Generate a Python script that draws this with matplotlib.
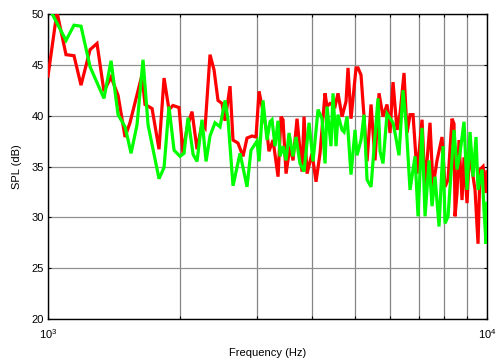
import numpy as np
import matplotlib
matplotlib.use('Agg')
import matplotlib.pyplot as plt
from matplotlib.ticker import LogLocator, NullFormatter, FixedLocator

plt.rcParams['font.family'] = ['Liberation Sans', 'DejaVu Sans']

# measured SPL, red run (Hz, dB)
freq_red = np.array([
    1000, 1048, 1099, 1146, 1189, 1247, 1293, 1341, 1392, 1444,
    1498, 1537, 1637, 1663, 1726, 1790, 1838, 1886, 1926, 1988,
    2030, 2073, 2128, 2185, 2243, 2279, 2339, 2389, 2439, 2491,
    2531, 2598, 2639, 2709, 2781, 2840, 2916, 2977, 3025, 3089,
    3154, 3187, 3255, 3342, 3395, 3430, 3485, 3559, 3615, 3692,
    3790, 3830, 3891, 3994, 4079, 4165, 4276, 4321, 4389, 4506,
    4577, 4675, 4774, 4824, 4900, 5031, 5084, 5164, 5246, 5330,
    5443, 5558, 5676, 5796, 5919, 6013, 6108, 6238, 6337, 6471,
    6574, 6678, 6784, 6928, 7112, 7225, 7416, 7534, 7694, 7898,
    8024, 8151, 8324, 8411, 8456, 8545, 8635, 8772, 8864, 9005,
    9148, 9244, 9391, 9540, 9640, 9793, 9949, 10000])
spl_red = np.array([
    43.9, 50.2, 46.0, 45.9, 43.0, 46.5, 47.1, 42.4, 43.8, 42.0,
    37.9, 39.3, 44.0, 41.1, 40.7, 36.7, 43.7, 40.6, 41.0, 40.8,
    36.3, 38.8, 40.4, 36.7, 39.2, 38.8, 46.0, 44.5, 41.5, 41.2,
    39.5, 42.9, 37.6, 37.3, 36.0, 37.8, 38.0, 37.9, 42.4, 40.4,
    38.3, 36.5, 37.6, 34.0, 39.9, 39.6, 34.3, 37.0, 35.6, 39.7,
    34.5, 39.9, 34.3, 36.3, 33.5, 36.3, 42.2, 40.9, 41.2, 40.9,
    42.2, 39.9, 41.4, 44.7, 39.7, 44.7, 44.7, 44.0, 39.9, 35.5,
    41.1, 35.6, 42.2, 39.9, 41.1, 38.3, 43.3, 38.6, 40.2, 44.2,
    38.3, 40.1, 40.1, 34.3, 39.6, 33.0, 39.3, 33.0, 35.6, 37.9,
    33.0, 33.7, 39.7, 39.2, 30.1, 32.4, 37.6, 31.7, 35.9, 31.4,
    37.6, 34.7, 32.7, 27.4, 34.7, 35.0, 32.4, 34.5])

# measured SPL, green run (Hz, dB)
freq_green = np.array([
    1000, 1099, 1146, 1189, 1247, 1341, 1392, 1444, 1498, 1546,
    1595, 1646, 1690, 1790, 1838, 1886, 1937, 1999, 2041, 2084,
    2140, 2185, 2243, 2291, 2339, 2401, 2465, 2531, 2571, 2639,
    2738, 2840, 2900, 2993, 3025, 3089, 3154, 3204, 3238, 3289,
    3342, 3377, 3430, 3485, 3540, 3615, 3672, 3750, 3830, 3932,
    4015, 4122, 4209, 4276, 4321, 4412, 4459, 4530, 4577, 4675,
    4724, 4799, 4900, 5004, 5057, 5164, 5246, 5330, 5443, 5529,
    5646, 5706, 5796, 5919, 6108, 6173, 6303, 6437, 6539, 6678,
    6855, 6964, 7112, 7225, 7378, 7495, 7614, 7775, 7940, 8024,
    8151, 8411, 8545, 8680, 8864, 9005, 9148, 9293, 9440, 9540,
    9742, 9845, 9949, 10000])
spl_green = np.array([
    50.8, 47.4, 48.9, 48.8, 44.8, 41.7, 45.4, 40.1, 38.9, 36.3,
    39.1, 45.5, 39.1, 33.8, 34.9, 40.9, 36.6, 36.0, 36.3, 39.8,
    36.2, 35.5, 39.6, 35.5, 38.0, 39.3, 38.9, 41.5, 39.6, 33.1,
    36.3, 33.0, 36.6, 37.5, 35.5, 41.5, 37.6, 39.4, 39.6, 37.0,
    39.5, 36.0, 37.0, 35.6, 38.3, 36.0, 37.9, 35.3, 34.5, 39.3,
    35.5, 40.6, 39.7, 35.3, 40.9, 37.0, 42.2, 37.0, 40.1, 38.6,
    38.4, 39.9, 34.2, 38.6, 36.1, 37.6, 40.1, 33.7, 33.0, 36.8,
    41.7, 36.5, 35.3, 40.2, 39.3, 38.3, 36.1, 42.5, 39.3, 32.7,
    36.0, 30.1, 38.8, 30.1, 35.6, 31.1, 34.0, 29.1, 37.0, 29.4,
    30.1, 38.6, 34.7, 36.3, 39.4, 32.7, 38.4, 34.0, 37.9, 32.7,
    34.7, 30.7, 27.4, 31.4])

y_ticks = [20, 25, 30, 35, 40, 45, 50]

fig = plt.figure(figsize=(4.97, 3.62), dpi=100)
ax = fig.add_axes([0.0966, 0.1188, 0.8833, 0.8425])

ax.semilogx(freq_red, spl_red, color='#ff0000', lw=2.3, solid_joinstyle='miter', zorder=3)
ax.semilogx(freq_green, spl_green, color='#00ff00', lw=2.3, solid_joinstyle='miter', zorder=4)

ax.set_xlim(1000, 10000)
ax.set_ylim(20, 50)
ax.set_yticks(y_ticks)
ax.xaxis.set_major_locator(FixedLocator([1000, 10000]))
ax.xaxis.set_minor_locator(LogLocator(base=10, subs=np.arange(2, 10)))
ax.xaxis.set_minor_formatter(NullFormatter())

ax.grid(True, which='both', axis='x', color='#858585', lw=0.9)
ax.grid(True, which='major', axis='y', color='#909090', lw=0.9)
ax.set_axisbelow(True)

ax.tick_params(which='both', direction='in', top=True, right=True,
               labelsize=8, length=2.5, width=0.8)
ax.tick_params(axis='x', pad=6)
ax.tick_params(axis='y', pad=3)
for sp in ax.spines.values():
    sp.set_linewidth(1.0)

ax.set_xlabel('Frequency (Hz)', fontsize=8, labelpad=5)
ax.set_ylabel('SPL (dB)', fontsize=8, labelpad=7)

fig.savefig('out.png', dpi=100)
